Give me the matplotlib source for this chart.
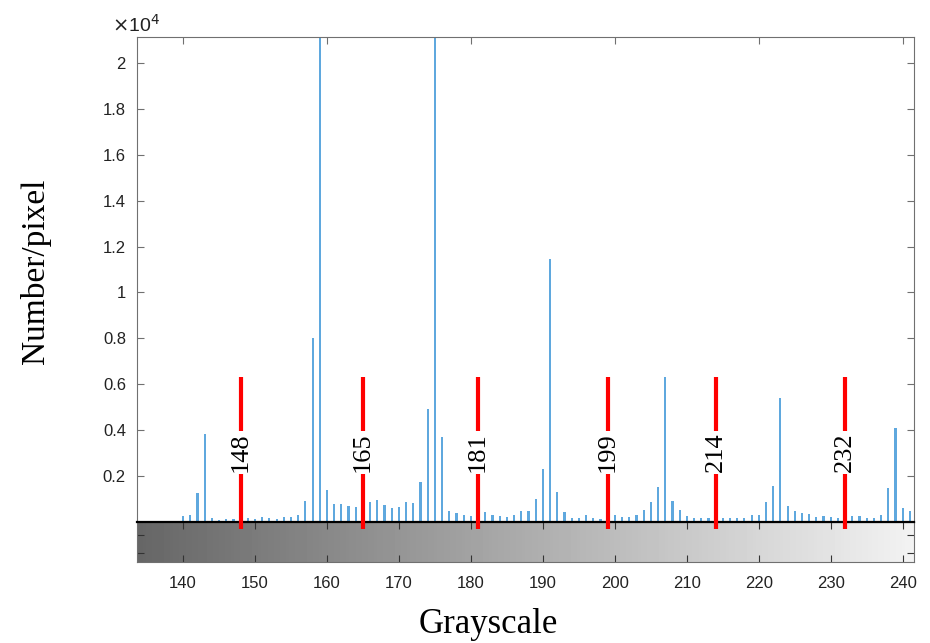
import numpy as np
import matplotlib
matplotlib.use('Agg')
import matplotlib.pyplot as plt

# Histogram data (grayscale level -> count)
gray_levels = list(range(134, 242))
counts = [60, 60, 60, 60, 60, 60,
          280, 290, 1260, 3840, 170, 100, 130, 130, 100, 170,
          130, 220, 170, 130, 220, 220, 320, 930, 8000, 30000,
          1380, 770, 800, 680, 640, 610, 860, 970, 740, 620,
          670, 880, 810, 1730, 4920, 30000, 3700, 490, 390, 290,
          250, 250, 420, 320, 250, 220, 320, 490, 490, 1000,
          2320, 11450, 1320, 450, 160, 190, 320, 190, 130, 150,
          290, 220, 220, 290, 540, 880, 1520, 6310, 900, 510,
          250, 160, 190, 190, 150, 160, 190, 160, 160, 290,
          290, 860, 1550, 5380, 710, 490, 410, 350, 220, 250,
          220, 160, 150, 250, 250, 190, 160, 320, 1460, 4090,
          600, 490]

# Threshold markers
thresholds = [148, 165, 181, 199, 214, 232]
threshold_labels = ['148', '165', '181', '199', '214', '232']

xmin, xmax = 133.6, 241.5
ymax = 21130
spine_col = '#707070'

fig = plt.figure(figsize=(9.3, 6.43), dpi=100)
ax = fig.add_axes([0.1473, 0.1882, 0.835, 0.7543])
gax = fig.add_axes([0.1473, 0.1260, 0.835, 0.0622])
ax.set_zorder(3)

# histogram bars
ax.bar(gray_levels, counts, width=0.3, color='#5FA8DE', linewidth=0)
ax.set_xlim(xmin, xmax)
ax.set_ylim(0, ymax)
yt = np.arange(2000, 20001, 2000)
ax.set_yticks(yt)
ax.set_yticklabels(['%g' % (v / 10000) for v in yt])
ax.set_xticks(np.arange(140, 241, 20))
ax.tick_params(axis='x', which='both', direction='in', top=True, bottom=False,
               labelbottom=False, color=spine_col, length=5)
ax.tick_params(axis='y', direction='in', left=True, right=True, color=spine_col,
               length=5, labelsize=12, pad=8, labelcolor='#222222')
for s in ['top', 'left', 'right']:
    ax.spines[s].set_color(spine_col)
ax.spines['bottom'].set_color('black')
ax.spines['bottom'].set_linewidth(1.6)
for lab in ax.get_yticklabels():
    lab.set_fontfamily('Liberation Sans')

ax.text(-0.032, 1.003, r'$\times$10$^4$', transform=ax.transAxes, fontsize=14,
        family='Liberation Sans', color='#222222', va='bottom', ha='left')

# red threshold lines with labels
for xv, lab in zip(thresholds, threshold_labels):
    ax.plot([xv, xv], [-300, 2100], color='red', lw=3, clip_on=False,
            solid_capstyle='butt', zorder=5)
    ax.plot([xv, xv], [3950, 6300], color='red', lw=3, clip_on=False,
            solid_capstyle='butt', zorder=5)
    ax.text(xv, 3050, lab, rotation=90, ha='center', va='center',
            family='Liberation Serif', fontsize=19, zorder=6)

# grayscale gradient bar
grad = np.linspace(0.40, 0.95, 256).reshape(1, -1)
gax.imshow(grad, cmap='gray', vmin=0, vmax=1, aspect='auto',
           extent=[xmin, xmax, 0, 1])
gax.set_xlim(xmin, xmax)
gax.set_ylim(0, 1)
gax.set_xticks(np.arange(140, 241, 10))
gax.set_yticks([0.22, 0.68])
gax.set_yticklabels([])
gax.tick_params(axis='x', direction='in', top=True, bottom=True, color='#333333',
                length=5, labelsize=12, labelcolor='#222222', pad=10)
gax.tick_params(axis='y', direction='in', left=True, right=True, color='#333333',
                length=5)
for s in gax.spines.values():
    s.set_color(spine_col)
for lab in gax.get_xticklabels():
    lab.set_fontfamily('Liberation Sans')

fig.text(0.038, 0.578, 'Number/pixel', rotation=90, ha='center', va='center',
         family='Liberation Serif', fontsize=24)
fig.text(0.525, 0.028, 'Grayscale', ha='center', va='center',
         family='Liberation Serif', fontsize=25)

fig.savefig('out.png', dpi=100)
